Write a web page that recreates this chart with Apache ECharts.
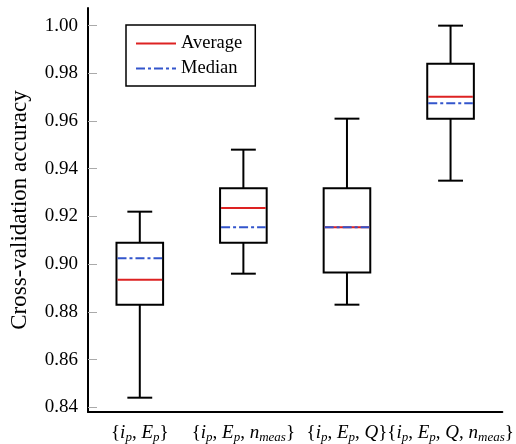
<!DOCTYPE html>
<html>
<head>
<meta charset="utf-8">
<script src="https://cdn.jsdelivr.net/npm/echarts@6/dist/echarts.min.js"></script>
<style>html,body{margin:0;padding:0;background:#fff}#c{width:516px;height:444px}</style>
</head>
<body>
<div id="c"></div>
<script>
// Category labels (rich text: i = italic, s = italic subscript)
var categories = [
  '{{i|i}{s|p}, {i|E}{s|p}}',
  '{{i|i}{s|p}, {i|E}{s|p}, {i|n}{s|meas}}',
  '{{i|i}{s|p}, {i|E}{s|p}, {i|Q}}',
  '{{i|i}{s|p}, {i|E}{s|p}, {i|Q}, {i|n}{s|meas}}'
];
var whiskerMin = [0.844, 0.896, 0.883, 0.935];
var q1Values   = [0.883, 0.909, 0.8965, 0.961];
var medians    = [0.9025, 0.9155, 0.9155, 0.9675];
var q3Values   = [0.909, 0.9318, 0.9318, 0.984];
var whiskerMax = [0.922, 0.948, 0.961, 1.000];
var averages   = [0.8935, 0.9235, 0.9155, 0.9702];
var yTickValues = [0.84, 0.86, 0.88, 0.90, 0.92, 0.94, 0.96, 0.98, 1.00];

var FONT = 'Liberation Serif';
var RED = '#dd2222', BLUE = '#3355cc';
var DASHDOT = [9, 3, 3, 3];

var rows = categories.map(function (c, i) {
  return [i, whiskerMin[i], q1Values[i], medians[i], q3Values[i], whiskerMax[i], averages[i]];
});

function renderItem(params, api) {
  var x = api.value(0);
  var pMin = api.coord([x, api.value(1)]);
  var pQ1 = api.coord([x, api.value(2)]);
  var pMed = api.coord([x, api.value(3)]);
  var pQ3 = api.coord([x, api.value(4)]);
  var pMax = api.coord([x, api.value(5)]);
  var pMean = api.coord([x, api.value(6)]);
  var band = api.size([1, 0])[0];
  var bw = band * 0.45, cw = band * 0.24;
  var cx = pMax[0];
  var black = {stroke: '#000', lineWidth: 2, fill: null};
  return {
    type: 'group',
    children: [
      {type: 'line', shape: {x1: cx, y1: pMax[1], x2: cx, y2: pQ3[1]}, style: black},
      {type: 'line', shape: {x1: cx, y1: pQ1[1], x2: cx, y2: pMin[1]}, style: black},
      {type: 'line', shape: {x1: cx - cw / 2, y1: pMax[1], x2: cx + cw / 2, y2: pMax[1]}, style: black},
      {type: 'line', shape: {x1: cx - cw / 2, y1: pMin[1], x2: cx + cw / 2, y2: pMin[1]}, style: black},
      {type: 'rect', shape: {x: cx - bw / 2, y: pQ3[1], width: bw, height: pQ1[1] - pQ3[1]}, style: {stroke: '#000', lineWidth: 2, fill: '#fff'}},
      {type: 'line', shape: {x1: cx - bw / 2 + 1, y1: pMean[1], x2: cx + bw / 2 - 1, y2: pMean[1]}, style: {stroke: RED, lineWidth: 2}},
      {type: 'line', shape: {x1: cx - bw / 2 + 1, y1: pMed[1], x2: cx + bw / 2 - 1, y2: pMed[1]}, style: {stroke: BLUE, lineWidth: 2, lineDash: DASHDOT}}
    ]
  };
}

var chart = echarts.init(document.getElementById('c'));
chart.setOption({
  animation: false,
  backgroundColor: '#fff',
  textStyle: {fontFamily: FONT},
  grid: {left: 85, right: 10, top: 8, bottom: 30.5, containLabel: false},
  legend: {
    left: 126, top: 25, orient: 'vertical',
    data: ['Average', 'Median'],
    borderColor: '#000', borderWidth: 1.5,
    padding: [9, 13, 8, 9], itemGap: 6,
    itemWidth: 40, itemHeight: 14,
    itemStyle: {opacity: 0},
    textStyle: {fontFamily: FONT, fontSize: 18.5, color: '#000'}
  },
  xAxis: {
    type: 'category',
    data: categories,
    boundaryGap: true,
    axisLine: {lineStyle: {color: '#000', width: 2}},
    axisTick: {inside: true, alignWithLabel: true, length: 8, lineStyle: {color: '#aaa', width: 1}},
    axisLabel: {
      interval: 0, margin: 10, color: '#000', fontFamily: FONT, fontSize: 19,
      rich: {
        i: {fontFamily: FONT, fontStyle: 'italic', fontSize: 19, color: '#000'},
        s: {fontFamily: FONT, fontStyle: 'italic', fontSize: 13, color: '#000', padding: [9, 0, 0, 0]}
      }
    },
    splitLine: {show: false}
  },
  yAxis: {
    type: 'value',
    min: 0.838, max: 1.0074,
    name: 'Cross-validation accuracy',
    nameLocation: 'middle', nameRotate: 90, nameGap: 57,
    nameTextStyle: {fontFamily: FONT, fontSize: 23, color: '#000'},
    axisLine: {show: true, lineStyle: {color: '#000', width: 2}},
    axisTick: {show: true, inside: true, length: 9, lineStyle: {color: '#aaa', width: 1}, customValues: yTickValues},
    axisLabel: {color: '#000', fontFamily: FONT, fontSize: 19, margin: 10, customValues: yTickValues,
      formatter: function (v) { return v.toFixed(2); }},
    splitLine: {show: false}
  },
  series: [
    {type: 'custom', name: 'boxes', renderItem: renderItem, data: rows,
     encode: {x: 0, y: [1, 2, 3, 4, 5, 6]}, z: 2},
    {type: 'line', name: 'Average', data: [], symbol: 'none', lineStyle: {color: RED, width: 2}, itemStyle: {color: RED}},
    {type: 'line', name: 'Median', data: [], symbol: 'none', lineStyle: {color: BLUE, width: 2, type: DASHDOT}, itemStyle: {color: BLUE}}
  ]
});
</script>
</body>
</html>
